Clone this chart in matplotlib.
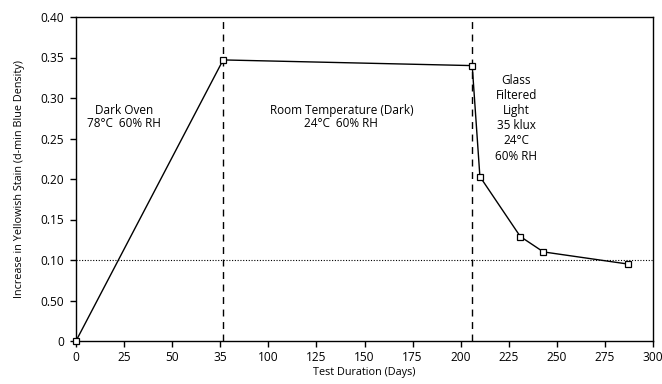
import matplotlib
matplotlib.use("Agg")
import matplotlib.pyplot as plt

days = [0, 76.5, 206, 210, 231, 243, 287]
stain = [0.0, 0.347, 0.340, 0.203, 0.129, 0.110, 0.095]
phase_bounds = [76.5, 206]
ref_level = 0.10
xticks = [0, 25, 50, 75, 100, 125, 150, 175, 200, 225, 250, 275, 300]
xtick_labels = ["0", "25", "50", "35", "100", "125", "150", "175", "200", "225", "250", "275", "300"]
yticks = [0, 0.05, 0.10, 0.15, 0.20, 0.25, 0.30, 0.35, 0.40]
ytick_labels = ["0", "0.50", "0.10", "0.15", "0.20", "0.25", "0.30", "0.35", "0.40"]

plt.rcParams['font.family'] = ['Open Sans', 'DejaVu Sans']

fig = plt.figure(figsize=(6.62, 3.84), dpi=100)
ax = fig.add_axes([76/662, 1 - 341/384, (653 - 76)/662, (341 - 17)/384])

ax.plot(days, stain, color='black', lw=1.0, marker='s', markersize=4,
        markerfacecolor='white', markeredgecolor='black', markeredgewidth=0.9, zorder=5, clip_on=False)
for b in phase_bounds:
    ax.plot([b, b], [0, 0.40], color='black', lw=1.0, ls=(0, (5, 4)), zorder=2)
ax.axhline(ref_level, color='black', lw=0.8, ls=(0, (1, 1.5)), zorder=1)

ax.set_xlim(0, 300)
ax.set_ylim(0, 0.40)
ax.set_xticks(xticks)
ax.set_xticklabels(xtick_labels)
ax.set_yticks(yticks)
ax.set_yticklabels(ytick_labels)
ax.tick_params(direction='out', length=4.5, width=1, labelsize=8.6, pad=4)
ax.tick_params(axis='x', pad=3)
for s in ax.spines.values():
    s.set_linewidth(1.0)

ax.set_xlabel("Test Duration (Days)", fontsize=7.8, labelpad=2)
ax.set_ylabel("Increase in Yellowish Stain (d-min Blue Density)", fontsize=7.8, labelpad=11)

ax.text(25, 0.277, "Dark Oven\n78°C  60% RH", ha='center', va='center', fontsize=8.5, linespacing=1.0)
ax.text(138, 0.277, "Room Temperature (Dark)\n24°C  60% RH", ha='center', va='center', fontsize=8.5, linespacing=1.0)
ax.text(229, 0.330, "Glass\nFiltered\nLight\n35 klux\n24°C\n60% RH", ha='center', va='top', fontsize=8.5, linespacing=1.22)

fig.savefig("out.png", dpi=100)
